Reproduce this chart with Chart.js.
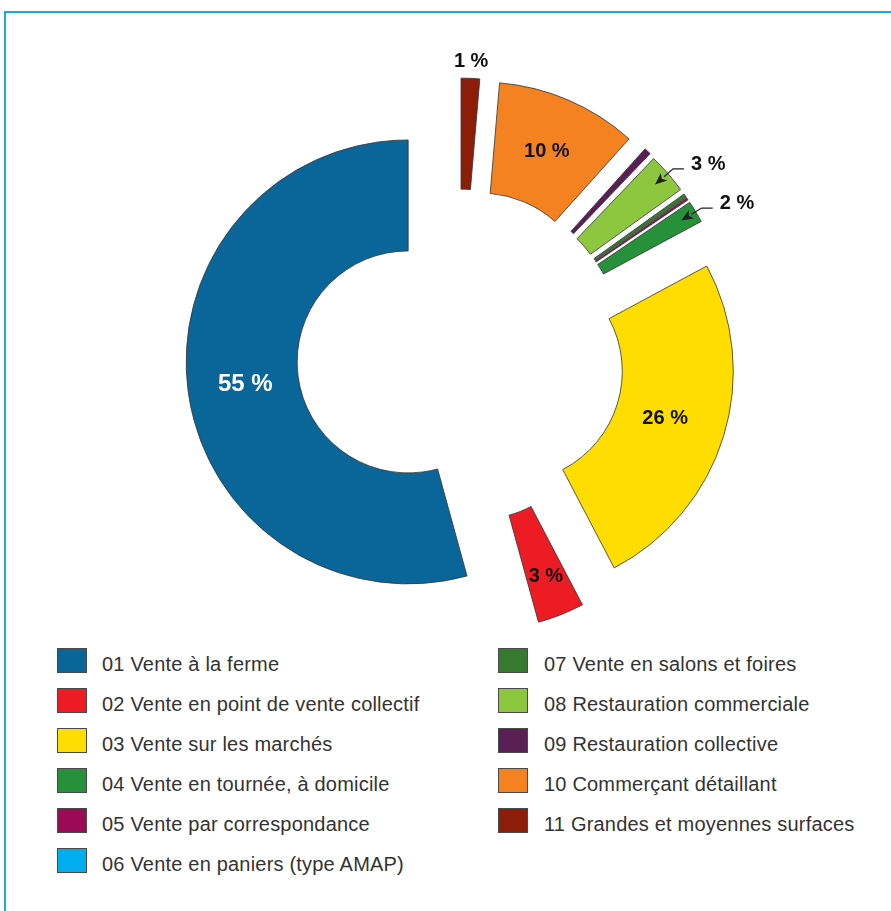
<!DOCTYPE html>
<html lang="fr">
<head>
<meta charset="utf-8">
<script src="https://cdn.jsdelivr.net/npm/chart.js@4/dist/chart.umd.min.js"></script>
<style>
  html, body { margin: 0; padding: 0; background: #ffffff; }
  #wrap { position: relative; width: 891px; height: 911px; overflow: hidden; background: #fff; }
  .frame-top { position: absolute; left: 4px; top: 11px; width: 887px; height: 2px; background: #1ba8e2; }
  .frame-left { position: absolute; left: 4px; top: 11px; width: 2px; height: 900px; background: #1ba8e2; }
  #c { position: absolute; left: 0; top: 0; }
  .sw { position: absolute; width: 30px; height: 25px; box-sizing: border-box; border: 1px solid #4a4a4a; }
  .lt { position: absolute; font-family: "Liberation Sans", Arial, sans-serif; font-size: 20px; letter-spacing: 0.2px; line-height: 25px; color: #333; white-space: nowrap; }
</style>
</head>
<body>
<div id="wrap">
  <div class="frame-top"></div>
  <div class="frame-left"></div>
  <canvas id="c" width="891" height="640"></canvas>
  <div id="legend"></div>
</div>
<script>
// ---- DATA (legend order 01..11) ----
const categories = [
  "01 Vente à la ferme",
  "02 Vente en point de vente collectif",
  "03 Vente sur les marchés",
  "04 Vente en tournée, à domicile",
  "05 Vente par correspondance",
  "06 Vente en paniers (type AMAP)",
  "07 Vente en salons et foires",
  "08 Restauration commerciale",
  "09 Restauration collective",
  "10 Commerçant détaillant",
  "11 Grandes et moyennes surfaces"
];
const shares = [54.3, 3.4, 25.2, 1.6, 0.15, 0, 0.3, 2.95, 0.5, 10.3, 1.35];
const shownLabels = ["55 %", "3 %", "26 %", "2 %", "", "", "", "3 %", "", "10 %", "1 %"];

// ---- STYLES ----
const colors = ["#0a6699", "#ed1c24", "#ffdd00", "#27903a", "#9b0a55", "#00aeef",
                "#357a2e", "#8dc63f", "#5a1f55", "#f58220", "#8c1d08"];
const explode = [51, 57, 55, 55, 55, 55, 55, 55, 56, 55.6, 55];
const labelMode = ["inside", "inside", "inside", "arrow", "", "", "", "arrow", "", "inside", "outside"];
const labelRingPos = [0.48, 0.63, 0.45, 0, 0, 0, 0, 0, 0, 0.5, 0];
const labelColor = ["#ffffff", "#111", "#111", "#111", "#111", "#111", "#111", "#111", "#111", "#111", "#111"];
const labelSize = [24, 20, 20, 20, 20, 20, 20, 20, 20, 20, 20];

// chart draws clockwise from top in order 11 -> 01
const order = categories.map((_, i) => categories.length - 1 - i);

const explodePlugin = {
  id: 'explodeSlices',
  beforeDatasetsDraw(chart) {
    const meta = chart.getDatasetMeta(0);
    const ca = chart.chartArea;
    const ctrl = meta.controller;
    const cx = (ca.left + ca.right) / 2 + (ctrl.offsetX || 0);
    const cy = (ca.top + ca.bottom) / 2 + (ctrl.offsetY || 0);
    meta.data.forEach((arc, j) => {
      const i = order[j];
      const mid = (arc.startAngle + arc.endAngle) / 2;
      arc.x = cx + Math.cos(mid) * explode[i];
      arc.y = cy + Math.sin(mid) * explode[i];
    });
  }
};

const labelPlugin = {
  id: 'sliceLabels',
  afterDatasetsDraw(chart) {
    const ctx = chart.ctx;
    const meta = chart.getDatasetMeta(0);
    meta.data.forEach((arc, j) => {
      const i = order[j];
      const txt = shownLabels[i];
      if (!txt || !labelMode[i]) return;
      const mid = (arc.startAngle + arc.endAngle) / 2;
      const c = Math.cos(mid), s = Math.sin(mid);
      ctx.save();
      ctx.font = "bold " + labelSize[i] + "px 'Liberation Sans', Arial, sans-serif";
      ctx.fillStyle = labelColor[i];
      if (labelMode[i] === 'inside') {
        const r = arc.innerRadius + labelRingPos[i] * (arc.outerRadius - arc.innerRadius);
        ctx.textAlign = 'center';
        ctx.textBaseline = 'middle';
        ctx.fillText(txt, arc.x + c * r, arc.y + s * r);
      } else if (labelMode[i] === 'outside') {
        const r = arc.outerRadius + 17;
        ctx.textAlign = 'center';
        ctx.textBaseline = 'middle';
        ctx.fillText(txt, arc.x + c * r, arc.y + s * r);
      } else if (labelMode[i] === 'arrow') {
        const rt = arc.outerRadius - 17, rk = arc.outerRadius + 7;
        const tx = arc.x + c * rt, ty = arc.y + s * rt;
        const kx = arc.x + c * rk, ky = arc.y + s * rk;
        const hx = kx + 11;
        ctx.strokeStyle = '#222';
        ctx.lineWidth = 1.2;
        const ang = Math.atan2(ty - ky, tx - kx);
        const ah = 12, aw = 5;
        const bx = tx - Math.cos(ang) * ah, by = ty - Math.sin(ang) * ah;
        ctx.beginPath();
        ctx.moveTo(hx, ky);
        ctx.lineTo(kx, ky);
        ctx.lineTo(bx, by);
        ctx.stroke();
        ctx.beginPath();
        ctx.moveTo(tx, ty);
        ctx.lineTo(bx - Math.sin(ang) * aw, by + Math.cos(ang) * aw);
        ctx.lineTo(bx + Math.cos(ang) * 3, by + Math.sin(ang) * 3);
        ctx.lineTo(bx + Math.sin(ang) * aw, by - Math.cos(ang) * aw);
        ctx.closePath();
        ctx.fillStyle = '#222';
        ctx.fill();
        ctx.fillStyle = labelColor[i];
        ctx.textAlign = 'left';
        ctx.textBaseline = 'alphabetic';
        ctx.fillText(txt, hx + 7, ky + 1);
      }
      ctx.restore();
    });
  }
};

new Chart(document.getElementById('c'), {
  type: 'doughnut',
  data: {
    labels: order.map(i => categories[i]),
    datasets: [{
      data: order.map(i => shares[i]),
      backgroundColor: order.map(i => colors[i]),
      borderColor: '#333333',
      borderWidth: 0.8,
      borderJoinStyle: 'miter',
      offset: 0,
      hoverOffset: 0,
      clip: false
    }]
  },
  options: {
    responsive: false,
    animation: false,
    radius: 222,
    cutout: '50%',
    rotation: 0,
    layout: { padding: { left: 26.4, right: 0, top: 70.2, bottom: 0 } },
    plugins: { legend: { display: false }, tooltip: { enabled: false } },
    events: []
  },
  plugins: [explodePlugin, labelPlugin]
});

// ---- HTML legend, two columns ----
const legend = document.getElementById('legend');
categories.forEach((name, i) => {
  const col = i < 6 ? 0 : 1;
  const row = i < 6 ? i : i - 6;
  const top = 648 + 40 * row;
  const sw = document.createElement('div');
  sw.className = 'sw';
  sw.style.left = (col ? 498 : 57) + 'px';
  sw.style.top = top + 'px';
  sw.style.background = colors[i];
  legend.appendChild(sw);
  const t = document.createElement('div');
  t.className = 'lt';
  t.style.left = (col ? 544 : 102) + 'px';
  t.style.top = (top + 4.2) + 'px';
  t.textContent = name;
  legend.appendChild(t);
});
</script>
</body>
</html>
